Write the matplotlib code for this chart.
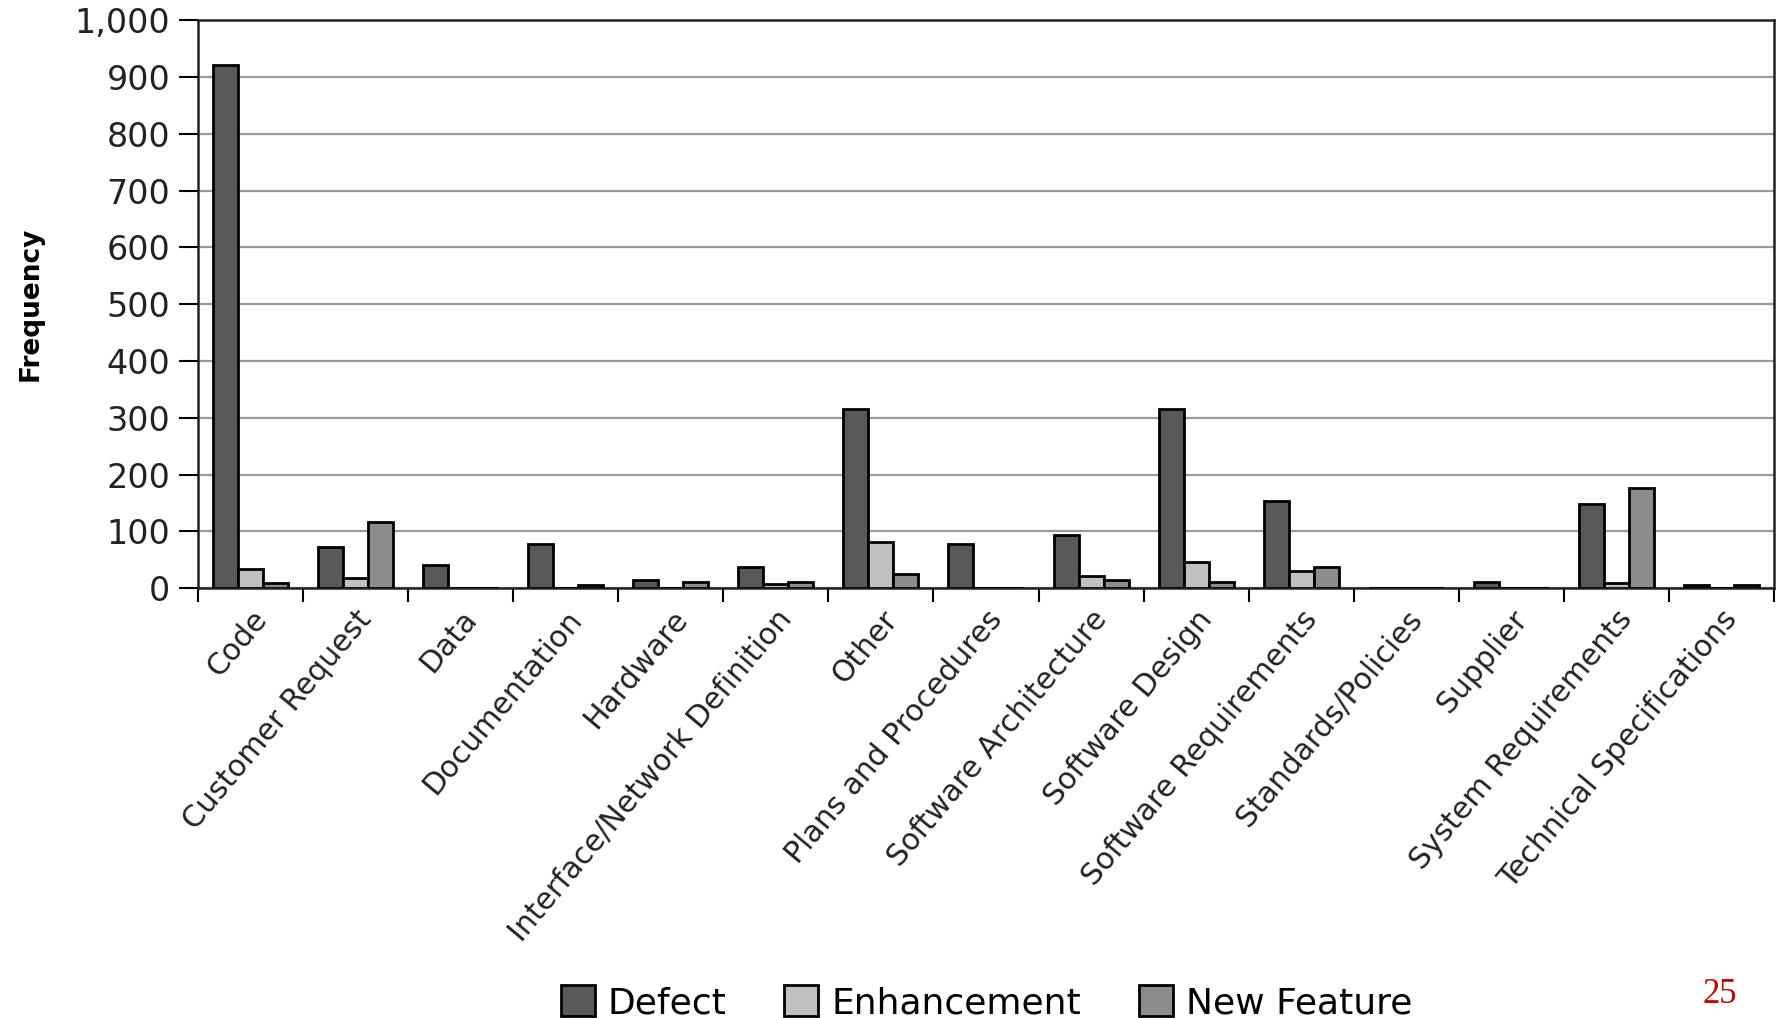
import numpy as np
import matplotlib
matplotlib.use("Agg")
import matplotlib.pyplot as plt

categories = ["Code", "Customer Request", "Data", "Documentation", "Hardware",
              "Interface/Network Definition", "Other", "Plans and Procedures",
              "Software Architecture", "Software Design", "Software Requirements",
              "Standards/Policies", "Supplier", "System Requirements",
              "Technical Specifications"]
defect = [922, 73, 41, 78, 15, 38, 315, 78, 94, 315, 153, 0, 11, 149, 6]
enhancement = [34, 18, 0, 0, 0, 7, 82, 0, 22, 46, 31, 0, 0, 10, 0]
new_feature = [10, 117, 0, 6, 11, 11, 26, 0, 15, 11, 38, 0, 0, 176, 6]

series = [("Defect", defect, "#58595b"),
          ("Enhancement", enhancement, "#bfc0c2"),
          ("New Feature", new_feature, "#8b8c8e")]

label_font = "DejaVu Sans"

fig = plt.figure(figsize=(17.77, 10.18), dpi=100)
ax = fig.add_axes([0.1114, 0.4221, 0.8869, 0.558])

x = np.arange(len(categories))
w = 0.238
for i, (name, vals, col) in enumerate(series):
    ax.bar(x + (i - 1) * w, vals, width=w, color=col, edgecolor="black",
           linewidth=2, label=name, zorder=3)

ax.set_xlim(-0.5, len(categories) - 0.5)
ax.set_ylim(0, 1000)
ax.set_yticks(np.arange(0, 1001, 100))
ax.set_yticklabels([f"{v:,}" for v in range(0, 1001, 100)],
                   fontsize=24, family="DejaVu Sans", color="#222222")
ax.yaxis.grid(True, color="#9a9a9a", linewidth=1.6, zorder=0)
ax.tick_params(axis="y", direction="out", length=14, width=1.5, pad=6)

# labels on category centres, tick marks on the boundaries
ax.set_xticks(x)
ax.set_xticklabels(categories, rotation=50, ha="right", va="top",
                   rotation_mode="anchor", fontsize=21.5, family=label_font,
                   color="#222222")
ax.tick_params(axis="x", which="major", length=0, pad=12)
ax.set_xticks(np.arange(-0.5, len(categories)), minor=True)
ax.tick_params(axis="x", which="minor", direction="out", length=10, width=1.5)

for s in ax.spines.values():
    s.set_linewidth(1.8)
    s.set_color("#222222")

ax.set_ylabel("Frequency", fontsize=19, fontweight="bold", family=label_font)
ax.yaxis.set_label_coords(-0.098, 0.5)

fig.legend(loc="center", bbox_to_anchor=(0.555, 0.015), ncol=3, frameon=False,
           handlelength=0.95, handleheight=0.95, handletextpad=0.35,
           columnspacing=1.6, prop={"family": label_font, "size": 26})

fig.text(0.958, 0.015, "25", color="#c00000", fontsize=25,
         family="Liberation Serif", ha="left", va="baseline")

fig.savefig("out.png", dpi=100)
